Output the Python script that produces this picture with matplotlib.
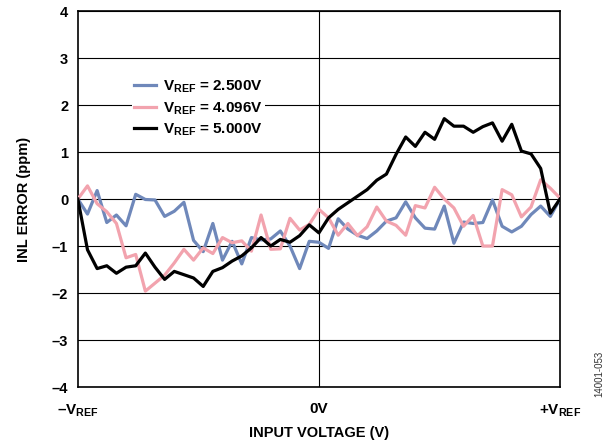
#!/usr/bin/env python3

import numpy as np
import matplotlib
matplotlib.use("Agg")
import matplotlib.pyplot as plt

plt.rcParams['font.family'] = ['Liberation Sans', 'DejaVu Sans']
plt.rcParams['font.weight'] = 'bold'
plt.rcParams['mathtext.fontset'] = 'custom'
plt.rcParams['mathtext.rm'] = 'Liberation Sans:bold'
plt.rcParams['mathtext.it'] = 'Liberation Sans:bold'
plt.rcParams['mathtext.bf'] = 'Liberation Sans:bold'

# input voltage as a fraction of VREF, -1 ... +1
x = np.linspace(-1, 1, 51)

inl_2v5 = [0, -0.32, 0.18, -0.5, -0.34, -0.57, 0.1, -0.01, -0.02, -0.37,
           -0.26, -0.07, -0.88, -1.12, -0.52, -1.3, -0.9, -1.38, -0.82, -0.87,
           -0.85, -0.68, -1.0, -1.48, -0.9, -0.92, -1.05, -0.42, -0.64, -0.77,
           -0.84, -0.68, -0.47, -0.4, -0.06, -0.4, -0.62, -0.64, -0.15, -0.94,
           -0.49, -0.52, -0.5, -0.02, -0.58, -0.7, -0.58, -0.33, -0.15, -0.37,
           0]
inl_4v096 = [0, 0.28, -0.1, -0.27, -0.52, -1.25, -1.18, -1.96, -1.79, -1.62,
             -1.36, -1.07, -1.3, -1.04, -1.16, -0.82, -0.93, -0.89, -1.11, -0.34,
             -1.07, -1.06, -0.41, -0.66, -0.54, -0.22, -0.4, -0.77, -0.52, -0.78,
             -0.59, -0.17, -0.47, -0.56, -0.77, -0.14, -0.19, 0.25, 0.0, -0.19,
             -0.58, -0.35, -1.0, -1.0, 0.2, 0.09, -0.38, -0.17, 0.41, 0.23,
             0.02]
inl_5v = [0, -1.08, -1.48, -1.42, -1.58, -1.45, -1.42, -1.15, -1.45, -1.71,
          -1.54, -1.61, -1.68, -1.86, -1.54, -1.46, -1.32, -1.21, -1.04, -0.82,
          -1.0, -0.86, -0.92, -0.78, -0.55, -0.72, -0.4, -0.22, -0.08, 0.06,
          0.2, 0.4, 0.53, 0.95, 1.32, 1.12, 1.42, 1.27, 1.71, 1.55,
          1.55, 1.42, 1.54, 1.62, 1.23, 1.59, 1.02, 0.96, 0.65, -0.3,
          0]

labels = [r'V$_{\mathrm{REF}}$ = 2.500V',
          r'V$_{\mathrm{REF}}$ = 4.096V',
          r'V$_{\mathrm{REF}}$ = 5.000V']
xticklabels = [r'–V$_{\mathrm{REF}}$', '0V', r'+V$_{\mathrm{REF}}$']
yticks = [4, 3, 2, 1, 0, -1, -2, -3, -4]

fig = plt.figure(figsize=(6.13, 4.41), dpi=100)
ax = fig.add_axes([0.127, 0.1224, 0.7865, 0.8526])

for yv in yticks:
    ax.axhline(yv, color='black', lw=0.8, zorder=1)
ax.axvline(0, color='black', lw=0.8, zorder=1)

ax.plot(x, inl_2v5, color='#6F88BA', lw=2.3, label=labels[0], zorder=3)
ax.plot(x, inl_4v096, color='#F2A3AE', lw=2.3, label=labels[1], zorder=3)
ax.plot(x, inl_5v, color='black', lw=2.3, label=labels[2], zorder=4)

ax.set_xlim(-1, 1)
ax.set_ylim(-4, 4)
ax.set_yticks(yticks)
ax.set_yticklabels([str(v).replace('-', '–') for v in yticks])
ax.set_xticks([-1, 0, 1])
ax.set_xticklabels(xticklabels)
ax.tick_params(axis='y', length=0, labelsize=10.5, pad=7)
ax.tick_params(axis='x', length=0, labelsize=11, pad=11)
for s in ax.spines.values():
    s.set_linewidth(1.2)

ax.set_xlabel('INPUT VOLTAGE (V)', fontsize=10.5, fontweight='bold', labelpad=5)
ax.set_ylabel('INL ERROR (ppm)', fontsize=10.5, fontweight='bold', labelpad=15)

leg = ax.legend(loc='upper left', bbox_to_anchor=(0.112, 0.826), fontsize=11,
                handlelength=1.4, handletextpad=0.5, labelspacing=0.33,
                borderpad=0.15, borderaxespad=0, frameon=True, fancybox=False)
leg.get_frame().set_facecolor('white')
leg.get_frame().set_edgecolor('none')
leg.get_frame().set_alpha(1)
leg.set_zorder(5)

fig.text(0.977, 0.1, '14001-053', rotation=90, fontsize=7, fontweight='normal',
         ha='center', va='bottom', color='#333333')

fig.savefig('out.png', dpi=100)
